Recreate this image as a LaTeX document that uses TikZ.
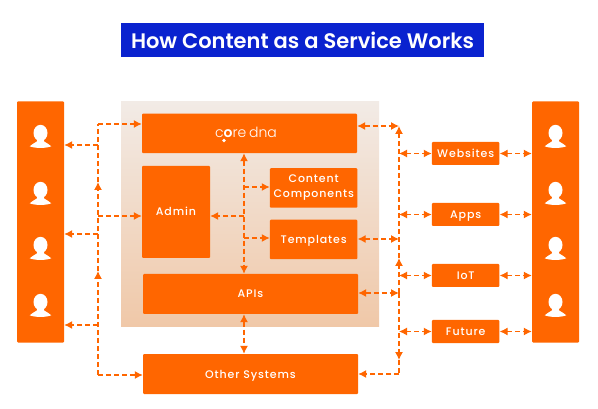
\documentclass[tikz,border=0pt]{standalone}
\usepackage{fontspec}
\setmainfont{Poppins SemiBold}
\newfontfamily\boxfont{Poppins Medium}[LetterSpace=8]
\newfontfamily\logofont{Poppins Light}
\usepackage{tikz}
\usetikzlibrary{arrows.meta,positioning,calc}
\definecolor{cdorange}{HTML}{FF6600}
\definecolor{cdblue}{HTML}{0A22CF}
\definecolor{cdtop}{HTML}{F2EBE6}
\definecolor{cdbottom}{HTML}{F0C8A8}

\begin{document}
\begin{tikzpicture}[
  x=1pt, y=-1pt,
  mod/.style={draw=none, fill=cdorange, rounded corners=1pt, inner sep=0pt, text=white, align=center, font=\fontsize{11}{15}\selectfont\boxfont},
  one/.style={text height=8pt, text depth=0pt},
  link/.style={draw=cdorange, line width=1.15pt, dash pattern=on 5pt off 3pt},
  tipb/.style={link, {Latex[length=8pt,width=8pt]}-{Latex[length=8pt,width=8pt]}},
  tipe/.style={link, -{Latex[length=8pt,width=8pt]}},
  person/.pic={
    \fill[white] (0,-3.5) ellipse (7pt and 8.2pt);
    \fill[white] (-3.2,2) -- (3.2,2) -- (3.6,5) .. controls (6,7) and (9,7.5) .. (10.8,9.8)
      .. controls (5,12) and (-5,12) .. (-10.8,9.8)
      .. controls (-9,7.5) and (-6,7) .. (-3.6,5) -- cycle;
  }
]
  \useasboundingbox (0,0) rectangle (598,409);
  % title
  \node[fill=cdblue, text=white, minimum width=363pt, minimum height=34pt, inner sep=0pt, font=\fontsize{21}{28}\selectfont] (title) at (302.5,40) {How Content as a Service Works};
  % panels
  \node[fill=cdorange, rounded corners=1pt, minimum width=47pt, minimum height=241pt, inner sep=0pt] (lusers) at (40.5,222) {};
  \node[fill=cdorange, rounded corners=1pt, minimum width=47pt, minimum height=241pt, inner sep=0pt] (rusers) at (555.5,222) {};
  \foreach \py in {136.5,193.5,248.5,305.5} {
    \pic at (40.5,\py) {person};
    \pic at (555.5,\py) {person};
  }
  \node[top color=cdtop, bottom color=cdbottom, minimum width=258pt, minimum height=225pt, inner sep=0pt] (cms) at (250,214) {};
  % boxes
  \node[mod, minimum width=215pt, minimum height=39.5pt] (core) at (249.5,133.3) {};
  \node[text=white, inner sep=0pt, font=\fontsize{14}{20}\selectfont\logofont] (logo) at (246,132) {c{\bfseries o}re\hspace{-1pt} dna};
  \node[fill=white, circle, inner sep=0pt, minimum size=3.6pt] (logodot) at (224,140.5) {};
  \node[mod, one, minimum width=68pt, minimum height=92pt] (admin) at (176,212) {Admin};
  \node[mod, minimum width=87.5pt, minimum height=39.5pt] (comp) at (313.7,188) {Content\\Components};
  \node[mod, one, minimum width=87.5pt, minimum height=39.5pt] (tmpl) at (313.7,239.5) {Templates};
  \node[mod, one, minimum width=215pt, minimum height=40pt] (apis) at (250.5,294) {APIs};
  \node[mod, one, minimum width=215pt, minimum height=40pt] (other) at (250.5,374) {Other Systems};
  \node[mod, one, minimum width=67.5pt, minimum height=23pt] (web) at (465.7,153.5) {Websites};
  \node[mod, one, minimum width=67.5pt, minimum height=23pt] (apps) at (465.7,214.5) {Apps};
  \node[mod, one, minimum width=67.5pt, minimum height=23pt] (iot) at (465.7,275.5) {IoT};
  \node[mod, one, minimum width=67.5pt, minimum height=23pt] (fut) at (465.7,331.5) {Future};
  % left bus
  \coordinate (lb0) at (98,124);
  \coordinate (lb1) at (98,145);
  \coordinate (lb2) at (98,216);
  \coordinate (lb3) at (98,234);
  \coordinate (lb4) at (98,325);
  \coordinate (lb5) at (98,375);
  \coordinate (lbup1) at (98,182);
  \coordinate (lbup2) at (98,271);
  \draw[tipe] (lb5) -- (lbup2);
  \draw[tipe] (lbup2) -- (lbup1);
  \draw[link] (lbup1) -- (lb0);
  \draw[tipe] (lb0) -- (lb0 -| core.west);
  \draw[tipe] (lb1) -- (lb1 -| lusers.east);
  \draw[tipe] (lb2) -- (lb2 -| admin.west);
  \draw[tipe] (lb3) -- (lb3 -| lusers.east);
  \draw[tipe] (lb4) -- (lb4 -| lusers.east);
  \draw[tipe] (lb5) -- (lb5 -| other.west);
  % centre bus
  \coordinate (cb0) at (244,187);
  \coordinate (cb1) at (244,216);
  \coordinate (cb2) at (244,238);
  \draw[tipb] (cb0 |- core.south) -- (cb0 |- apis.north);
  \draw[tipe] (cb0) -- (cb0 -| comp.west);
  \draw[tipe] (cb1) -- (cb1 -| admin.east);
  \draw[tipe] (cb2) -- (cb2 -| tmpl.west);
  \draw[tipb] (cb0 |- apis.south) -- (cb0 |- other.north);
  % right bus
  \coordinate (rb0) at (399,126);
  \coordinate (rb1) at (399,153.5);
  \coordinate (rb2) at (399,214.5);
  \coordinate (rb3) at (399,239);
  \coordinate (rb4) at (399,275.5);
  \coordinate (rb5) at (399,293);
  \coordinate (rb6) at (399,331.5);
  \coordinate (rb7) at (399,374);
  \coordinate (rbup) at (399,258);
  \coordinate (rbdn) at (399,360);
  \draw[tipe] (rb5) -- (rbup);
  \draw[tipe] (rbup) -- (rb0);
  \draw[tipe] (rb5) -- (rbdn);
  \draw[link] (rbdn) -- (rb7);
  \draw[tipb] (core.east |- rb0) -- (rb0);
  \draw[tipb] (tmpl.east |- rb3) -- (rb3);
  \draw[tipb] (apis.east |- rb5) -- (rb5);
  \draw[tipe] (rb7) -- (rb7 -| other.east);
  \foreach \nm/\cn in {web/rb1, apps/rb2, iot/rb4, fut/rb6} {
    \draw[tipb] (\cn) -- (\cn -| \nm.west);
    \draw[tipb] (\cn -| \nm.east) -- (\cn -| rusers.west);
  }
\end{tikzpicture}
\end{document}
